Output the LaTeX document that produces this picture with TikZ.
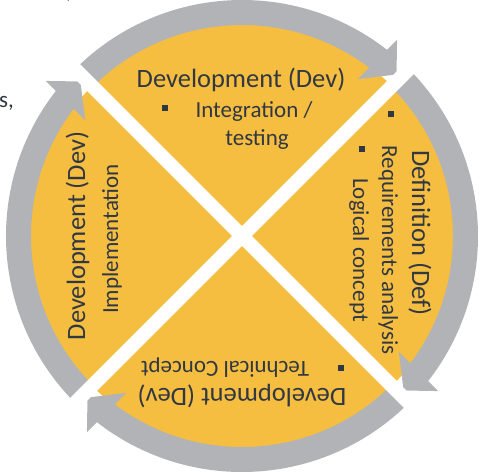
\documentclass[tikz,border=0pt]{standalone}
\usepackage{fontspec}
\setmainfont{Carlito}
\usepackage{tikz}
\usetikzlibrary{calc}
\definecolor{cycyellow}{RGB}{245,190,65}
\definecolor{cycgrey}{RGB}{177,179,182}
\definecolor{cyctext}{RGB}{50,56,66}

\begin{document}
\begin{tikzpicture}[x=1pt,y=1pt,
    phase/.style={text=cyctext,font=\fontsize{26.5}{30}\selectfont,anchor=base,inner sep=0pt},
    item/.style={text=cyctext,font=\fontsize{23}{27}\selectfont,anchor=base,inner sep=0pt},
    bullet/.style={fill=cyctext,minimum size=6pt,inner sep=0pt}]
  \useasboundingbox (0,0) rectangle (487,475);
  \coordinate (c) at (242,239);
  \fill[cycyellow] (c) circle (212);
  \foreach \ang in {45,-45,-135,135} {
    \draw[cycgrey,line width=25pt] ($(c)+(\ang+90:223.5)$) arc[start angle=\ang+90,end angle=\ang+7,radius=223.5];
    \fill[cycgrey] ($(c)+(\ang:248.3)+(\ang+90:29)$) -- ($(c)+(\ang:192.8)+(\ang+90:29)$)
      -- ($(c)+(\ang:223.5)+(\ang+90:5)$) -- cycle;
  }
  \draw[white,line width=14pt] ($(c)+(45:262)$) -- ($(c)+(-135:262)$);
  \draw[white,line width=14pt] ($(c)+(135:262)$) -- ($(c)+(-45:262)$);

  \node[phase] (devtop) at (241,387) {Development (Dev)};
  \node[bullet] (btop) at (165,367) {};
  \node[item] (integ) at (254,358) {Integration /};
  \node[item] (testing) at (257,330) {testing};

  \node[phase,rotate=90] (devleft) at (85,239) {Development (Dev)};
  \node[item,rotate=90] (impl) at (118,236) {Implementation};

  \node[phase,rotate=-90] (def) at (412,242) {Definition (Def)};
  \node[bullet] (breq) at (391,361) {};
  \node[item,rotate=-90] (req) at (382,225) {Requirements analysis};
  \node[bullet] (blogic) at (362,326) {};
  \node[item,rotate=-90] (logic) at (353,225) {Logical concept};

  \node[phase,rotate=180] (devbot) at (242,87) {Development (Dev)};
  \node[bullet] (btech) at (341,107) {};
  \node[item,rotate=180] (tech) at (225,114) {Technical Concept};

  \node[item,anchor=base east] (fraga) at (14,367) {s,};
  \node[item,anchor=base west] (fragb) at (66,476) {,};
\end{tikzpicture}
\end{document}
